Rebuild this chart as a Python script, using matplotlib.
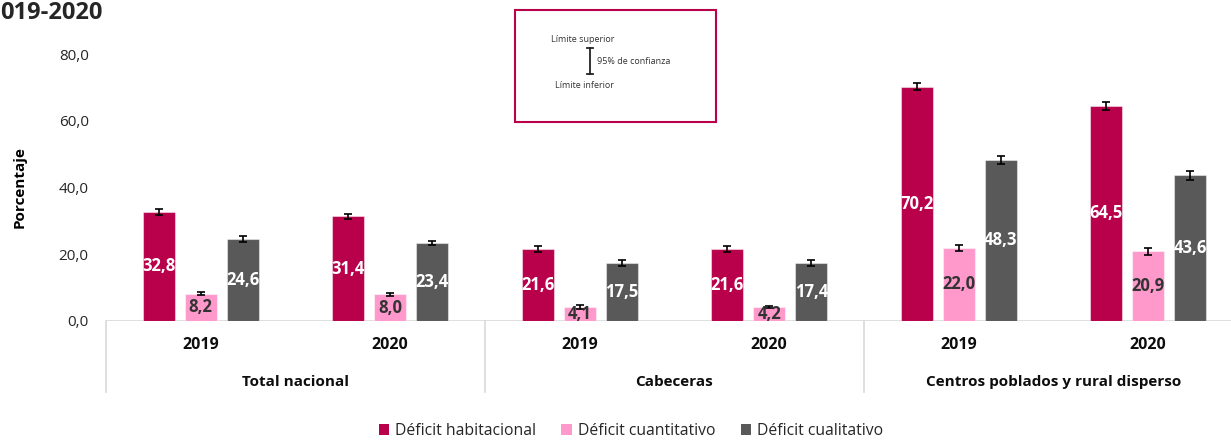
import matplotlib
matplotlib.use("Agg")
import matplotlib.pyplot as plt
from matplotlib.patches import Rectangle, Patch
from matplotlib.lines import Line2D
import matplotlib.transforms as mtransforms
import numpy as np

plt.rcParams['font.family'] = ['Open Sans', 'DejaVu Sans']

years = ["2019", "2020", "2019", "2020", "2019", "2020"]
groups = ["Total nacional", "Cabeceras", "Centros poblados y rural disperso"]
series_names = ["Déficit habitacional", "Déficit cuantitativo", "Déficit cualitativo"]
habitacional = [32.8, 31.4, 21.6, 21.6, 70.2, 64.5]
cuantitativo = [8.2, 8.0, 4.1, 4.2, 22.0, 20.9]
cualitativo = [24.6, 23.4, 17.5, 17.4, 48.3, 43.6]
habitacional_err = [0.9, 0.7, 0.8, 0.8, 1.1, 1.15]
cuantitativo_err = [0.35, 0.4, 0.55, 0.3, 0.9, 1.0]
cualitativo_err = [0.9, 0.6, 0.9, 0.9, 1.15, 1.25]
yticks = [0, 20, 40, 60, 80]

colors = ["#B8004B", "#FF99CC", "#595959"]
label_colors = ["white", "#333333", "white"]

W, H = 1231, 440
fig = plt.figure(figsize=(W / 100, H / 100), dpi=100)
ax = fig.add_axes([106 / W, 1 - 321 / H, 6 * 189.5 / W, (321 - 54) / H])

x = np.arange(len(years))
bw = 0.169
off = 0.2216
data = [habitacional, cuantitativo, cualitativo]
errs = [habitacional_err, cuantitativo_err, cualitativo_err]
for i, (vals, er) in enumerate(zip(data, errs)):
    pos = x + (i - 1) * off
    bars = ax.bar(pos, vals, bw, color=colors[i], edgecolor=(1, 1, 1, 0.45),
                  linewidth=0.8, zorder=2)
    ax.errorbar(pos, vals, yerr=er, fmt='none', ecolor='black', elinewidth=1.2,
                capsize=3, capthick=1.2, zorder=3)
    labs = [f"{v:.1f}".replace('.', ',') for v in vals]
    ax.bar_label(bars, labels=labs, label_type='center', color=label_colors[i],
                 fontsize=12, fontweight='bold', zorder=4)

ax.set_xlim(-0.5, 5.5)
ax.set_ylim(0, 80)
ax.set_yticks(yticks)
ax.set_yticklabels([f"{v:.1f}".replace('.', ',') for v in yticks], fontsize=11, color='#262626')
ax.tick_params(axis='y', length=0, pad=12.5)
ax.set_xticks([])
for s in ax.spines.values():
    s.set_visible(False)
ax.axhline(0, color='#D9D9D9', lw=1.2, zorder=1)
ax.set_ylabel("Porcentaje", fontsize=11, fontweight='bold', labelpad=23)

trans = mtransforms.blended_transform_factory(ax.transData, ax.transAxes)
axh = 321 - 54
for sx in [-0.5, 1.5, 3.5, 5.5]:
    ax.plot([sx, sx], [0, -(392 - 321) / axh], transform=trans, color='#D9D9D9',
            lw=1.2, clip_on=False)
for xi, yl in zip(x, years):
    ax.text(xi, -(345 - 321) / axh, yl, transform=trans, ha='center', va='center',
            fontsize=11.5, fontweight='bold', color='#0D0D0D')
for gi, g in enumerate(groups):
    ax.text(2 * gi + 0.5, -(382 - 321) / axh, g, transform=trans, ha='center',
            va='center', fontsize=11, fontweight='bold', color='#0D0D0D')

# Title fragment
fig.text(0, 1 - 13 / H, "019-2020", fontsize=17, fontweight='bold', color='#262626',
         ha='left', va='center')

# Legend
handles = [Patch(facecolor=c, edgecolor='none') for c in colors]
fig.legend(handles, series_names, loc='center', bbox_to_anchor=(631 / W, 1 - 431 / H),
           ncol=3, frameon=False, fontsize=11.3, handlelength=0.65, handleheight=0.65,
           handletextpad=0.4, columnspacing=1.6, labelcolor='#262626')

# Inset confidence box
fig.patches.append(Rectangle((515 / W, 1 - 122 / H), (716 - 515) / W, (122 - 10) / H,
                             transform=fig.transFigure, facecolor='white',
                             edgecolor='#B8004B', lw=1.5, zorder=5))
fig.text(551 / W, 1 - 39 / H, "Límite superior", fontsize=6.5, color='#333333',
         ha='left', va='center', zorder=6)
fig.text(597 / W, 1 - 62 / H, "95% de confianza", fontsize=6.5, color='#333333',
         ha='left', va='center', zorder=6)
fig.text(555 / W, 1 - 85 / H, "Límite inferior", fontsize=6.5, color='#333333',
         ha='left', va='center', zorder=6)
bx = 590 / W
y1, y2 = 1 - 48 / H, 1 - 74 / H
cw = 3 / W
for seg in [([bx, bx], [y1, y2]), ([bx - cw, bx + cw], [y1, y1]), ([bx - cw, bx + cw], [y2, y2])]:
    fig.lines.append(Line2D(seg[0], seg[1], transform=fig.transFigure, color='#222222',
                            lw=1.3, zorder=6))

fig.savefig("out.png", dpi=100)
